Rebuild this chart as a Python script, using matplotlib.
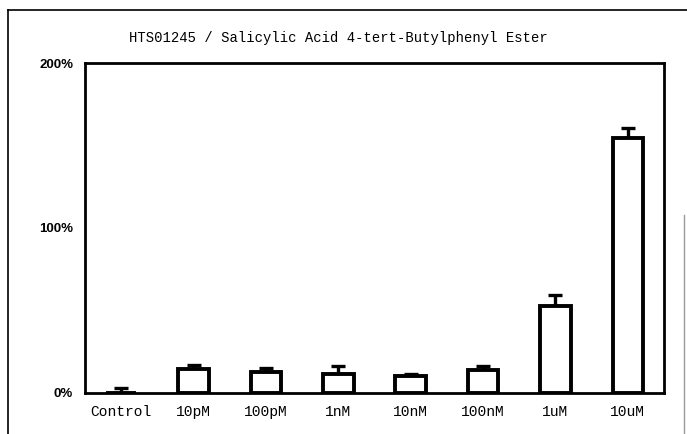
import matplotlib
matplotlib.use("Agg")
import matplotlib.pyplot as plt
from matplotlib.lines import Line2D

categories = ["Control", "10pM", "100pM", "1nM", "10nM", "100nM", "1uM", "10uM"]
values = [0.0, 14.3, 12.6, 11.2, 10.2, 13.7, 52.7, 154.7]
errors = [2.9, 2.4, 2.4, 4.9, 1.0, 2.4, 6.5, 6.0]
yticks = [0, 100, 200]
yticklabels = ["0%", "100%", "200%"]
title = "HTS01245 / Salicylic Acid 4-tert-Butylphenyl Ester"

W, H = 687, 434
fig = plt.figure(figsize=(W / 100, H / 100), dpi=100)
fig.patch.set_facecolor("white")

left, right, top, bottom = 85, 664, 63, 392.5
ax = fig.add_axes([left / W, 1 - bottom / H, (right - left) / W, (bottom - top) / H])

x = list(range(len(categories)))
ax.bar(x, values, width=0.42, facecolor="white", edgecolor="black", linewidth=2.8, zorder=3)
ax.errorbar(x, values, yerr=[[0] * len(errors), errors], fmt="none", ecolor="black",
            elinewidth=2.4, capsize=5, capthick=2.4, zorder=2)

ax.set_xlim(-0.5, len(categories) - 0.5)
ax.set_ylim(0, 200)
for s in ax.spines.values():
    s.set_linewidth(2.0)
ax.set_yticks(yticks)
ax.set_yticklabels(yticklabels, fontfamily="Liberation Sans", fontweight="bold", fontsize=9.5)
ax.set_xticks(x)
ax.set_xticklabels(categories, fontfamily="Liberation Mono", fontsize=10.5)
ax.tick_params(axis="both", length=0)
ax.tick_params(axis="x", pad=9)
ax.tick_params(axis="y", pad=8.5)
ax.get_yticklabels()[-1].set_y(203)

fig.text(338 / W, 1 - 38 / H, title, ha="center", va="center",
         fontfamily="Liberation Mono", fontsize=10)

# outer scan frame
fig.add_artist(Line2D([8 / W, 8 / W], [0, 1 - 10 / H], color="black", lw=1.2, transform=fig.transFigure))
fig.add_artist(Line2D([8 / W, 1], [1 - 10 / H, 1 - 10 / H], color="black", lw=1.2, transform=fig.transFigure))
fig.add_artist(Line2D([684 / W, 684 / W], [0, 1 - 215 / H], color="#999999", lw=1.0, transform=fig.transFigure))

fig.savefig("out.png", dpi=100)
